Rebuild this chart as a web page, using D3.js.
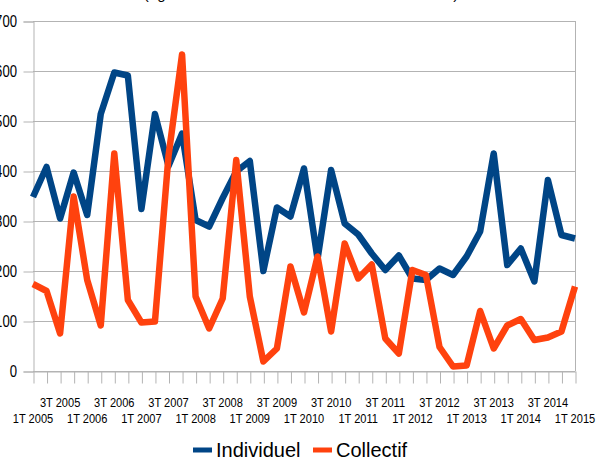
<!DOCTYPE html>
<html>
  <head>
    <meta charset="utf-8">
    <script src="https://d3js.org/d3.v7.min.js"></script>
    <style>
      body { margin: 0; background: #fff; }
      svg { display: block; }
      text { font-family: "Liberation Sans", Arial, sans-serif; fill: #000; }
    </style>
  </head>
<body>
<script>
"use strict";

// quarters, 1T 2005 .. 1T 2015
var quarters = [
  "1T 2005","2T 2005","3T 2005","4T 2005",
  "1T 2006","2T 2006","3T 2006","4T 2006",
  "1T 2007","2T 2007","3T 2007","4T 2007",
  "1T 2008","2T 2008","3T 2008","4T 2008",
  "1T 2009","2T 2009","3T 2009","4T 2009",
  "1T 2010","2T 2010","3T 2010","4T 2010",
  "1T 2011","2T 2011","3T 2011","4T 2011",
  "1T 2012","2T 2012","3T 2012","4T 2012",
  "1T 2013","2T 2013","3T 2013","4T 2013",
  "1T 2014","2T 2014","3T 2014","4T 2014",
  "1T 2015"
];

var individuel = [348, 408, 305, 397, 312, 514, 597, 591, 324, 514,
                  410, 475, 302, 289, 346, 399, 420, 200, 327, 309,
                  405, 224, 402, 295, 273, 235, 202, 231, 185, 182,
                  205, 192, 229, 279, 435, 212, 245, 179, 382, 272, 265];

var collectif = [174, 160, 75, 349, 182, 91, 435, 142, 97, 99,
                 430, 633, 149, 85, 145, 422, 149, 19, 45, 209,
                 117, 229, 79, 255, 185, 213, 65, 35, 202, 192,
                 48, 9, 11, 120, 45, 91, 104, 62, 67, 79, 169];

var yTicks = [0, 100, 200, 300, 400, 500, 600, 700];
var seriesNames = ["Individuel", "Collectif"];
var colors = ["#004586", "#ff420e"];

var width = 596, height = 459;
var plotLeft = 33, plotRight = 575, plotTop = 21, plotBottom = 371;

var svg = d3.select("body").append("svg")
    .attr("width", width)
    .attr("height", height);

// title, mostly cut off by the top edge
svg.append("text")
    .attr("x", 301)
    .attr("y", -1)
    .attr("text-anchor", "middle")
    .style("font-size", "15px")
    .text("(agréments trimestriels en nombre de dossiers)");

var x = d3.scalePoint().domain(quarters).range([plotLeft, plotRight]);
var y = d3.scaleLinear().domain([0, 700]).range([plotBottom, plotTop]);

// grid
svg.append("g").selectAll("line")
    .data(yTicks)
    .enter().append("line")
    .attr("x1", plotLeft).attr("x2", plotRight)
    .attr("y1", function(d) { return y(d) + 0.5; })
    .attr("y2", function(d) { return y(d) + 0.5; })
    .style("stroke", "#b3b3b3");

svg.append("line")
    .attr("x1", plotRight + 0.5).attr("x2", plotRight + 0.5)
    .attr("y1", plotTop).attr("y2", plotBottom)
    .style("stroke", "#b3b3b3");

// y axis (labels drawn narrow, like the original)
var yAxis = svg.append("g")
    .attr("transform", "translate(" + (plotLeft + 0.5) + ",0.5)")
    .call(d3.axisLeft(y).tickValues(yTicks).tickSize(10).tickFormat(""));
yAxis.selectAll("path, line").style("stroke", "#b3b3b3");

svg.append("g").selectAll("text")
    .data(yTicks)
    .enter().append("text")
    .attr("transform", function(d) { return "translate(17," + y(d) + ") scale(0.82,1)"; })
    .attr("dy", "0.35em")
    .attr("text-anchor", "end")
    .style("font-size", "16px")
    .text(function(d) { return d; });

// x axis
var xAxis = svg.append("g")
    .attr("transform", "translate(0.5," + (plotBottom + 0.5) + ")")
    .call(d3.axisBottom(x).tickSize(12).tickSizeOuter(0).tickFormat(""));
xAxis.selectAll("path, line").style("stroke", "#b3b3b3");

svg.append("g").selectAll("text")
    .data(quarters.filter(function(q) { return q[0] === "1" || q[0] === "3"; }))
    .enter().append("text")
    .attr("transform", function(d) {
        return "translate(" + x(d) + "," + (d[0] === "3" ? 406.5 : 423) + ") scale(0.82,1)";
    })
    .attr("text-anchor", "middle")
    .style("font-size", "13.5px")
    .text(function(d) { return d; });

// lines
var line = d3.line()
    .x(function(d, i) { return x(quarters[i]); })
    .y(function(d) { return y(d); });

[individuel, collectif].forEach(function(values, k) {
    svg.append("path")
        .datum(values)
        .attr("d", line)
        .style("fill", "none")
        .style("stroke", colors[k])
        .style("stroke-width", 6.5)
        .style("stroke-linejoin", "round");
});

// legend
var legendX = [193, 313];
seriesNames.forEach(function(name, k) {
    svg.append("line")
        .attr("x1", legendX[k]).attr("x2", legendX[k] + 19)
        .attr("y1", 450).attr("y2", 450)
        .style("stroke", colors[k])
        .style("stroke-width", 5);
    svg.append("text")
        .attr("x", legendX[k] + 23)
        .attr("y", 457)
        .style("font-size", "20px")
        .text(name);
});
</script>
</body>
</html>
